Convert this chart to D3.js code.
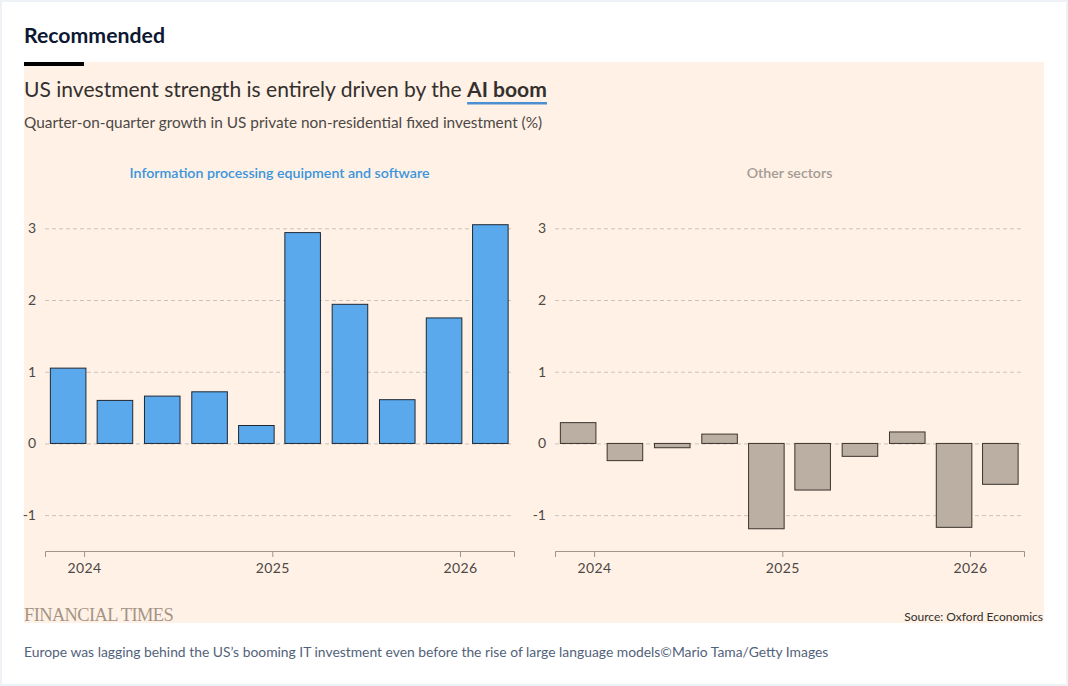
<!DOCTYPE html>
<html>
<head>
<meta charset="utf-8">
<script src="https://cdn.jsdelivr.net/npm/d3@7"></script>
<style>
  body { margin: 0; background: #eef2f6; }
  svg { display: block; }
</style>
</head>
<body>
<script>
// quarters shown, values (% q/q)
var quarters = ["2023 Q4", "2024 Q1", "2024 Q2", "2024 Q3", "2024 Q4",
                "2025 Q1", "2025 Q2", "2025 Q3", "2025 Q4", "2026 Q1"];
var itValues = [1.05, 0.60, 0.66, 0.72, 0.25, 2.94, 1.94, 0.61, 1.75, 3.05];
var otherValues = [0.29, -0.24, -0.06, 0.13, -1.19, -0.65, -0.18, 0.16, -1.17, -0.57];
var yTicks = [-1, 0, 1, 2, 3];
var xTickYears = [2024, 2025, 2026];
var panelTitles = ["Information processing equipment and software", "Other sectors"];

var W = 1068, H = 686;
var font = "Lato, 'Open Sans', sans-serif";

var svg = d3.select("body").append("svg")
    .attr("width", W)
    .attr("height", H);

// page frame + card + pink chart area
svg.append("rect").attr("x", 2).attr("y", 2).attr("width", W - 4).attr("height", H - 4).attr("fill", "#fff");
svg.append("rect").attr("x", 24).attr("y", 62).attr("width", 1020).attr("height", 561).attr("fill", "#fff1e5");
svg.append("rect").attr("x", 24).attr("y", 62).attr("width", 60).attr("height", 4).attr("fill", "#000");

// shrink/grow a text node so it spans the given width
function fitWidth(sel, target) {
  var fs = parseFloat(sel.attr("font-size"));
  var w = sel.node().getComputedTextLength();
  sel.attr("font-size", (fs * target / w).toFixed(2));
  return fs * target / w;
}

var rec = svg.append("text")
    .attr("x", 24).attr("y", 43)
    .attr("font-family", font).attr("font-weight", 700).attr("font-size", 20)
    .attr("fill", "#0d1833")
    .text("Recommended");
fitWidth(rec, 141);

var title = svg.append("text")
    .attr("x", 24).attr("y", 97)
    .attr("font-family", font).attr("font-size", 22)
    .attr("fill", "#33302e");
title.append("tspan").text("US investment strength is entirely driven by the ");
title.append("tspan").attr("font-weight", 700).text("AI boom");
fitWidth(title, 523);
var tsp = title.selectAll("tspan").nodes();
var boomStart = 24 + tsp[0].getComputedTextLength();
svg.append("rect")
    .attr("x", boomStart).attr("y", 102)
    .attr("width", 547 - boomStart).attr("height", 2.5)
    .attr("fill", "#4b8fd1");

var sub = svg.append("text")
    .attr("x", 24).attr("y", 128)
    .attr("font-family", font).attr("font-size", 15)
    .attr("fill", "#4d4845")
    .text("Quarter-on-quarter growth in US private non-residential fixed investment (%)");
fitWidth(sub, 518);

// scales
function qDate(q) {
  var yr = +q.slice(0, 4), n = +q.slice(6);
  return new Date(Date.UTC(yr, (n - 1) * 3 + 2, 1));
}

var x = d3.scaleUtc()
    .domain([new Date(Date.UTC(2023, 9, 17)), new Date(Date.UTC(2026, 3, 16))])
    .range([45, 514]);

var y = d3.scaleLinear()
    .domain([-1.5, 3])
    .range([551, 228.3]);

var bw = (x(qDate(quarters[1])) - x(qDate(quarters[0]))) * 0.76;

var panels = [
  {values: itValues, dx: 0, fill: "#5aa9ed", stroke: "#1f2833", titleColor: "#3b95dc"},
  {values: otherValues, dx: 510, fill: "#bbafa3", stroke: "#3b332d", titleColor: "#a39b94"}
];

var panelFs = 13;

panels.forEach(function(p, i) {
  var g = svg.append("g").attr("transform", "translate(" + p.dx + ",0)");

  var pt = g.append("text")
      .attr("x", (x.range()[0] + x.range()[1]) / 2).attr("y", 178)
      .attr("text-anchor", "middle")
      .attr("font-family", font).attr("font-weight", 600).attr("font-size", panelFs)
      .attr("fill", p.titleColor)
      .text(panelTitles[i]);
  if (i === 0) panelFs = fitWidth(pt, 300);

  // y grid + labels
  var yAxis = g.append("g")
      .attr("transform", "translate(" + x.range()[0] + ",0)")
      .call(d3.axisLeft(y)
        .tickValues(yTicks)
        .tickFormat(function(d) { return String(d); })
        .tickSize(-(x.range()[1] - x.range()[0]))
        .tickPadding(9));
  yAxis.select(".domain").remove();
  yAxis.selectAll("line").attr("stroke", "#cbc2b9").attr("stroke-dasharray", "4 3");
  yAxis.selectAll("text")
      .attr("font-family", font).attr("font-size", 14).attr("fill", "#4d4845");

  // bars
  g.append("g")
    .selectAll("rect")
    .data(p.values)
    .enter().append("rect")
      .attr("x", function(d, j) { return x(qDate(quarters[j])) - bw / 2; })
      .attr("width", bw)
      .attr("y", function(d) { return y(Math.max(0, d)); })
      .attr("height", function(d) { return Math.abs(y(d) - y(0)); })
      .attr("fill", p.fill)
      .attr("stroke", p.stroke)
      .attr("stroke-width", 1);

  // x axis
  var xAxis = g.append("g")
      .attr("transform", "translate(0," + y(-1.5) + ")")
      .call(d3.axisBottom(x)
        .tickValues(xTickYears.map(function(yr) { return new Date(Date.UTC(yr, 0, 1)); }))
        .tickFormat(d3.utcFormat("%Y"))
        .tickSizeOuter(0).tickSize(6).tickPadding(6));
  xAxis.select(".domain").attr("stroke", "#9e948b");
  xAxis.selectAll("line").attr("stroke", "#9e948b");
  xAxis.selectAll("text")
      .attr("font-family", font).attr("font-size", 14).attr("letter-spacing", 0.4).attr("fill", "#4d4845");
});

var ft = svg.append("text")
    .attr("x", 24).attr("y", 621)
    .attr("font-family", "'Liberation Serif', 'DejaVu Serif', serif").attr("font-size", 18)
    .attr("fill", "#a49486")
    .attr("letter-spacing", -0.6)
    .text("FINANCIAL TIMES");
fitWidth(ft, 149);

var src = svg.append("text")
    .attr("x", 1043).attr("y", 621)
    .attr("text-anchor", "end")
    .attr("font-family", font).attr("font-size", 11.5)
    .attr("fill", "#33302e")
    .text("Source: Oxford Economics");
fitWidth(src, 139);

var cap = svg.append("text")
    .attr("x", 24).attr("y", 657)
    .attr("font-family", font).attr("font-size", 13)
    .attr("fill", "#52627a")
    .text("Europe was lagging behind the US\u2019s booming IT investment even before the rise of large language models\u00a9Mario Tama/Getty Images");
fitWidth(cap, 805);
</script>
</body>
</html>
